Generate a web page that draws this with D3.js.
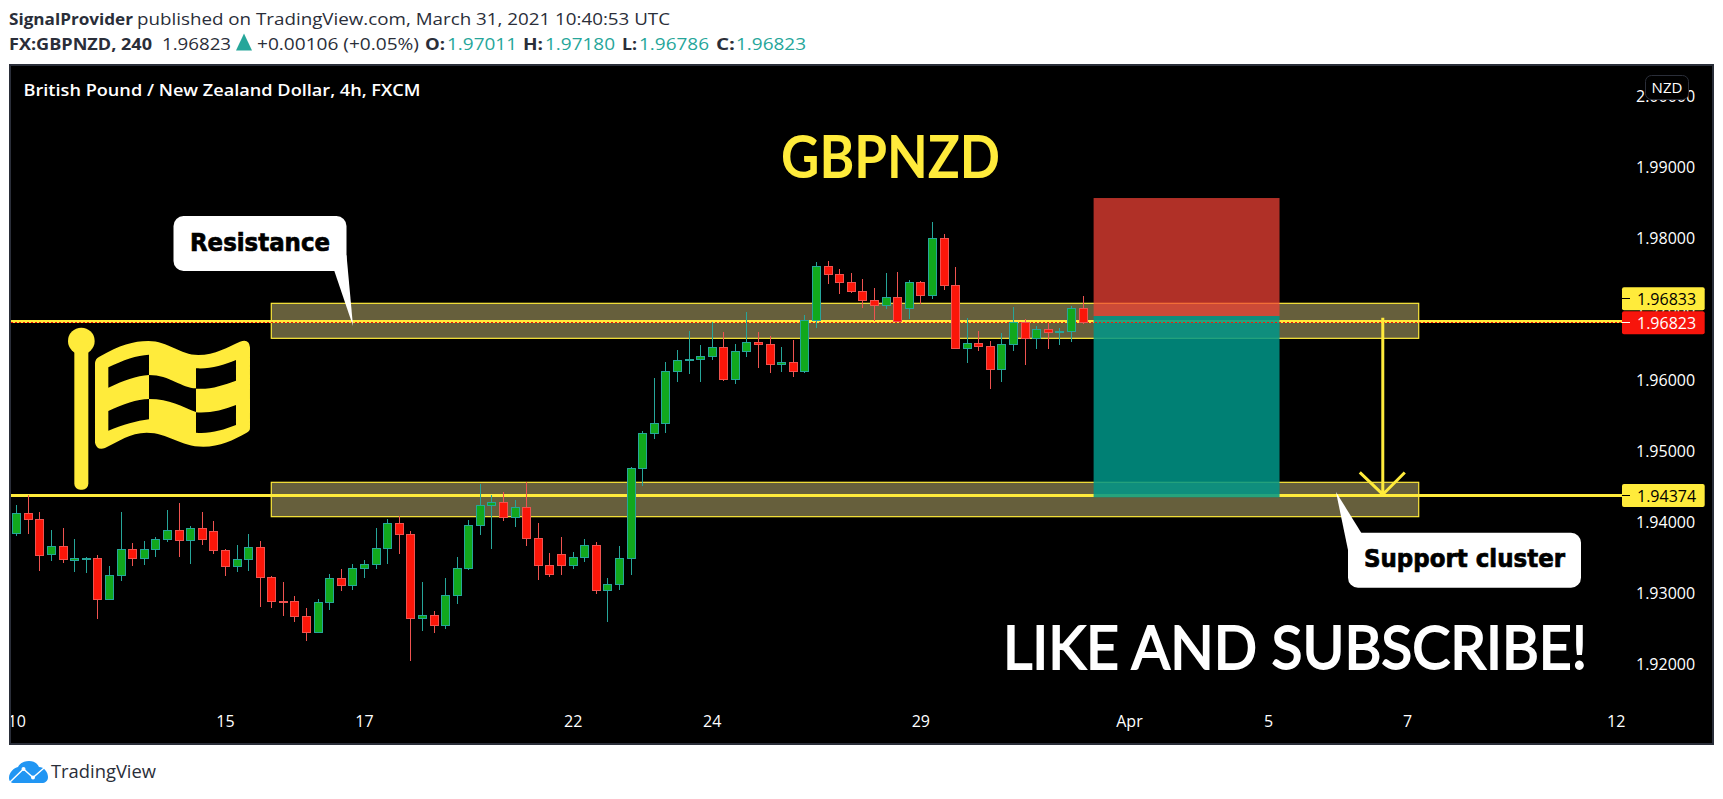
<!DOCTYPE html>
<html>
<head>
<meta charset="utf-8">
<style>
html,body{margin:0;padding:0;background:#fff;overflow:hidden}
svg{display:block}
text{white-space:pre}
</style>
<script src="https://cdn.jsdelivr.net/npm/d3@7"></script>
</head>
<body>
<svg id="c" width="1723" height="799"></svg>
<script>
const opens=[1.93850,1.94122,1.94038,1.93545,1.93657,1.93470,1.93484,1.93488,1.92911,1.93249,
1.93615,1.93488,1.93615,1.93756,1.93883,1.93742,1.93911,1.93869,1.93601,1.93376,
1.93474,1.93643,1.93221,1.92883,1.92883,1.92671,1.92446,1.92869,1.93207,1.93108,
1.93347,1.93404,1.93629,1.93981,1.93826,1.92643,1.92686,1.92545,1.92967,1.93347,
1.93953,1.94235,1.94277,1.94066,1.94207,1.93770,1.93390,1.93545,1.93390,1.93502,
1.93671,1.93038,1.93122,1.93488,1.94756,1.95249,1.95390,1.96122,1.96277,1.96291,
1.96334,1.96460,1.96010,1.96404,1.96531,1.96503,1.96221,1.96249,1.96122,1.96840,
1.97601,1.97489,1.97376,1.97249,1.97122,1.97052,1.97165,1.97010,1.97376,1.97193,
1.97995,1.97334,1.96446,1.96517,1.96474,1.96150,1.96503,1.96812,1.96587,1.96714,
1.96672,1.96686,1.97011];
const highs=[1.94240,1.94380,1.94136,1.93883,1.93916,1.93756,1.93502,1.93531,1.93376,1.94136,
1.93700,1.93728,1.93784,1.94164,1.94263,1.93939,1.94136,1.94009,1.93615,1.93671,
1.93826,1.93728,1.93235,1.93150,1.92953,1.92784,1.92911,1.93263,1.93333,1.93404,
1.93460,1.93911,1.94038,1.94085,1.93869,1.93150,1.92742,1.93207,1.93502,1.94024,
1.94531,1.94376,1.94418,1.94310,1.94559,1.93981,1.93559,1.93784,1.93573,1.93756,
1.93714,1.93207,1.93657,1.94770,1.95277,1.96024,1.96249,1.96418,1.96686,1.96488,
1.96812,1.96672,1.96503,1.96953,1.96672,1.96615,1.96460,1.96559,1.96911,1.97662,
1.97676,1.97559,1.97503,1.97418,1.97291,1.97503,1.97517,1.97404,1.97390,1.98221,
1.98052,1.97587,1.96869,1.96686,1.96545,1.96657,1.97024,1.96855,1.96756,1.96798,
1.96728,1.97038,1.97180];
const lows=[1.93808,1.93836,1.93315,1.93455,1.93427,1.93301,1.93286,1.92639,1.92911,1.93174,
1.93385,1.93399,1.93512,1.93723,1.93512,1.93413,1.93681,1.93554,1.93244,1.93301,
1.93315,1.92808,1.92793,1.92681,1.92596,1.92329,1.92432,1.92765,1.93033,1.93047,
1.93216,1.93343,1.93413,1.93554,1.92047,1.92470,1.92441,1.92498,1.92850,1.93329,
1.93822,1.93625,1.94019,1.93934,1.93667,1.93188,1.93230,1.93258,1.93343,1.93441,
1.92991,1.92596,1.93047,1.93258,1.94512,1.95174,1.95258,1.95977,1.96089,1.95977,
1.96287,1.95991,1.95949,1.96329,1.96174,1.96103,1.96118,1.96047,1.96103,1.96737,
1.97357,1.97216,1.97230,1.97019,1.96836,1.97005,1.96827,1.96864,1.97075,1.97136,
1.97273,1.96432,1.96244,1.96413,1.95878,1.95977,1.96413,1.96216,1.96442,1.96442,
1.96498,1.96540,1.96786];
const closes=[1.94122,1.94038,1.93540,1.93657,1.93474,1.93488,1.93488,1.92911,1.93249,1.93615,
1.93488,1.93615,1.93756,1.93883,1.93742,1.93911,1.93756,1.93601,1.93376,1.93474,
1.93643,1.93221,1.92883,1.92878,1.92671,1.92446,1.92869,1.93207,1.93108,1.93347,
1.93404,1.93629,1.93981,1.93826,1.92643,1.92686,1.92545,1.92967,1.93347,1.93953,
1.94235,1.94277,1.94066,1.94207,1.93770,1.93390,1.93263,1.93390,1.93502,1.93671,
1.93038,1.93122,1.93488,1.94756,1.95249,1.95390,1.96122,1.96277,1.96291,1.96334,
1.96460,1.96010,1.96404,1.96531,1.96503,1.96221,1.96249,1.96122,1.96840,1.97601,
1.97489,1.97376,1.97249,1.97122,1.97052,1.97165,1.96827,1.97376,1.97193,1.97995,
1.97334,1.96446,1.96517,1.96474,1.96150,1.96503,1.96812,1.96587,1.96714,1.96672,
1.96686,1.97010,1.96823];

const priceTicks=[1.92,1.93,1.94,1.95,1.96,1.97,1.98,1.99,2.00];
const dateTickIndex=[0,18,30,48,60,78,96,108,120,138];
const dateTickLabels=["10","15","17","22","24","29","Apr","5","7","12"];

const zones=[{top:1.97080,bottom:1.96587,from:22,to:121},{top:1.94559,bottom:1.94075,from:22,to:121}];
const levels=[1.96833,1.94374];
const lastPrice=1.96823;
const positionFrom=92.95, positionTo=108.99;
const positionStop=1.98563, positionEntry=1.96901, positionTarget=1.94348;
const arrowIndex=117.9, arrowFrom=1.96833, arrowTo=1.94374;

const x=d3.scaleLinear().domain([0,92]).range([16.3,1082.6]);
const y=d3.scaleLinear().domain([1.92,2.00]).range([664,96]);

const svg=d3.select("#c");
const UI='"Open Sans","Noto Sans",sans-serif', AX='"Open Sans","Noto Sans",sans-serif', BLACK='"DejaVu Sans",sans-serif';
const YEL="#ffeb3b", TEAL="#26a69a", RED="#ef5350", DARK="#2a2e39";

const defs=svg.append("defs");
defs.append("clipPath").attr("id","pane").append("rect").attr("x",11).attr("y",66).attr("width",1701).attr("height",677);

function label(t,px,py,o={}){
  const e=svg.append("text").attr("x",px).attr("y",py).text(t)
   .attr("font-family",o.font||UI).attr("font-size",o.size||16).attr("font-weight",o.weight||400)
   .attr("fill",o.fill||DARK);
  if(o.len) e.attr("textLength",o.len).attr("lengthAdjust","spacingAndGlyphs");
  if(o.anchor) e.attr("text-anchor",o.anchor);
  if(o.stroke) e.attr("stroke",o.fill||DARK).attr("stroke-width",o.stroke);
  return e;
}

// header
label("SignalProvider",9,24.5,{weight:700,len:124});
label("published on TradingView.com, March 31, 2021 10:40:53 UTC",137,24.5,{len:533});
label("FX:GBPNZD, 240",9,49.5,{weight:700,len:143});
label("1.96823",162,49.5,{len:69});
svg.append("path").attr("d","M236 50.5 L244 33.5 L252 50.5 Z").attr("fill",TEAL);
label("+0.00106 (+0.05%)",257,49.5,{len:162});
[["O:",425,20,"1.97011",447],["H:",523,20,"1.97180",545],["L:",622,15,"1.96786",639],["C:",716,19,"1.96823",736]]
 .forEach(r=>{label(r[0],r[1],49.5,{weight:700,len:r[2]});label(r[3],r[4],49.5,{fill:TEAL,len:70});});

// frame
svg.append("rect").attr("x",10).attr("y",65).attr("width",1703).attr("height",679)
  .attr("fill","#000").attr("stroke",DARK).attr("stroke-width",2);
label("British Pound / New Zealand Dollar, 4h, FXCM",23.5,96,{fill:"#fff",weight:600,len:397});

// axes
const yAxis=d3.axisRight(y).tickValues(priceTicks).tickFormat(d3.format(".5f")).tickSize(0).tickPadding(0);
const gy=svg.append("g").attr("transform","translate(1636,0)").call(yAxis);
gy.select(".domain").remove();
gy.selectAll("text").attr("fill","#fff").attr("font-family",AX).attr("font-size",16);

const gxClip=svg.append("g").attr("clip-path","url(#pane)");
const xAxis=d3.axisBottom(x).tickValues(dateTickIndex).tickFormat((d,i)=>dateTickLabels[i]).tickSize(0).tickPadding(0);
const gx=gxClip.append("g").attr("transform","translate(0,715.6)").call(xAxis);
gx.select(".domain").remove();
gx.selectAll("text").attr("fill","#fff").attr("font-family",AX).attr("font-size",16);

const pane=svg.append("g").attr("clip-path","url(#pane)");

// zones
pane.selectAll("rect.zone").data(zones).join("rect").attr("class","zone")
  .attr("x",d=>x(d.from)).attr("width",d=>x(d.to)-x(d.from))
  .attr("y",d=>y(d.top)).attr("height",d=>y(d.bottom)-y(d.top))
  .attr("fill","#665f3c").attr("stroke",YEL).attr("stroke-width",1.2);

// levels
pane.selectAll("line.level").data(levels).join("line").attr("class","level")
  .attr("x1",11).attr("x2",1622).attr("y1",d=>Math.round(y(d))+.5).attr("y2",d=>Math.round(y(d))+.5)
  .attr("stroke",YEL).attr("stroke-width",3);

// position tool
pane.append("rect").attr("x",x(positionFrom)).attr("width",x(positionTo)-x(positionFrom))
  .attr("y",y(positionStop)).attr("height",y(positionEntry)-y(positionStop))
  .attr("fill","rgb(244,67,54)").attr("fill-opacity",0.72);
pane.append("rect").attr("x",x(positionFrom)).attr("width",x(positionTo)-x(positionFrom))
  .attr("y",y(positionEntry)).attr("height",y(positionTarget)-y(positionEntry))
  .attr("fill","rgb(0,150,136)").attr("fill-opacity",0.85);

// last-price dotted line
pane.append("line").attr("x1",11).attr("x2",1622).attr("y1",Math.round(y(lastPrice))+.5).attr("y2",Math.round(y(lastPrice))+.5)
  .attr("stroke","#f7150c").attr("stroke-width",1).attr("stroke-dasharray","2 2");

// candles
const candles=opens.map((o,i)=>({i,o,h:highs[i],l:lows[i],c:closes[i]}));
const isUp=d=>d.c>=d.o;
const cx=d=>Math.round(x(d.i));
pane.selectAll("line.wick").data(candles).join("line").attr("class","wick")
  .attr("x1",d=>cx(d)+.5).attr("x2",d=>cx(d)+.5)
  .attr("y1",d=>Math.round(y(d.h))).attr("y2",d=>Math.round(y(d.l)))
  .attr("stroke",d=>isUp(d)?TEAL:RED).attr("stroke-width",1);
pane.selectAll("rect.body").data(candles).join("rect").attr("class","body")
  .attr("x",d=>cx(d)-3.5).attr("width",8)
  .attr("y",d=>Math.round(y(Math.max(d.o,d.c)))+.5)
  .attr("height",d=>Math.max(1,Math.round(y(Math.min(d.o,d.c)))-Math.round(y(Math.max(d.o,d.c)))))
  .attr("fill",d=>isUp(d)?"#11a81d":"#fb1609")
  .attr("stroke",d=>isUp(d)?TEAL:RED).attr("stroke-width",1);

// arrow
const ax=x(arrowIndex), ay=y(arrowTo);
pane.append("path").attr("fill","none").attr("stroke",YEL).attr("stroke-width",3)
  .attr("d",`M${ax} ${y(arrowFrom)-3} L${ax} ${ay-1} M${ax-23} ${ay-23} L${ax} ${ay-1} L${ax+22} ${ay-23}`);

// flag icon (drawn in a 3x local space)
const flag=svg.append("g").attr("transform","translate(40,210) scale(0.3333)").attr("fill",YEL);
flag.append("circle").attr("cx",124).attr("cy",393).attr("r",40);
flag.append("rect").attr("x",103).attr("y",395).attr("width",42).attr("height",444).attr("rx",18);
flag.append("path").attr("fill-rule","evenodd").attr("d",
 "M165 462 Q165 446 178 440 C240 405 280 393 325 393 C385 393 420 435 475 435 C525 435 565 410 600 395 Q628 385 630 412 L630 655 Q630 664 620 668 C580 690 540 710 490 710 C420 710 385 668 320 668 C270 668 235 695 195 714 Q170 722 165 698 Z "+
 "M205 472 C250 450 290 436 327 434 L327 495 C290 497 250 512 205 533 Z "+
 "M327 495 C390 495 425 535 468 535 L468 606 C425 590 390 567 327 567 Z "+
 "M468 475 C510 478 550 465 588 450 L588 512 C550 525 510 540 468 536 Z "+
 "M205 603 C250 582 290 568 327 567 L327 628 C290 632 250 645 205 662 Z "+
 "M468 607 C510 610 550 600 588 585 L588 645 C550 660 510 672 468 668 Z");

// callouts
svg.append("path").attr("fill","#fff").attr("d","M334 270 L353 326 L346.5 255 Z");
svg.append("rect").attr("x",173.5).attr("y",216).attr("width",173).attr("height",55).attr("rx",10).attr("fill","#fff");
label("Resistance",190,250.5,{font:BLACK,size:24,weight:700,fill:"#000",len:140,stroke:0.7});
svg.append("path").attr("fill","#fff").attr("d","M1336 492 L1348 550 L1362 534 Z");
svg.append("rect").attr("x",1348).attr("y",532.7).attr("width",233).attr("height",55).attr("rx",10).attr("fill","#fff");
label("Support cluster",1364,566.5,{font:BLACK,size:24,weight:700,fill:"#000",len:201,stroke:0.7});

// big texts
label("GBPNZD",781,178,{font:'Lato,"Open Sans",sans-serif',size:60,weight:700,fill:YEL,len:219});
label("LIKE AND SUBSCRIBE!",1003,669,{font:'Lato,"Open Sans",sans-serif',size:60,weight:400,fill:"#fff",len:584,stroke:1.8});

// price tags
function tag(t,top,bg,fg,tickY){
  svg.append("rect").attr("x",1622).attr("y",top).attr("width",82.7).attr("height",23).attr("rx",2).attr("fill",bg);
  svg.append("rect").attr("x",1622).attr("y",Math.round(tickY)).attr("width",8).attr("height",1).attr("fill",fg);
  label(t,1637,top+17.5,{font:AX,size:16,fill:fg});
}
tag(d3.format(".5f")(levels[0]),287.3,YEL,"#000",298);
tag(d3.format(".5f")(lastPrice),311.3,"#f7150c","#fff",322);
tag(d3.format(".5f")(levels[1]),484,YEL,"#000",495);

// currency box
svg.append("rect").attr("x",1645.5).attr("y",75.5).attr("width",43).attr("height",24).attr("rx",6)
  .attr("fill","#000").attr("stroke",DARK);
label("NZD",1667,92.5,{font:AX,size:15,fill:"#fff",anchor:"middle"});

// footer logo
svg.append("path").attr("fill","#2196f3").attr("d",
 "M9 778 C9 772 14 768 18 767 C20 763 24 761 29 761 C34 761 37 763 39 767 C44 767 48 772 48 777 C48 781 45 783 42 783 L14 783 C11 783 9 781 9 778 Z");
svg.append("path").attr("fill","none").attr("stroke","#fff").attr("stroke-width",1.4)
  .attr("d","M10 782 L23.5 769 L33 777.5 L44 768");
svg.append("circle").attr("cx",23.5).attr("cy",769).attr("r",2).attr("fill","#fff");
svg.append("circle").attr("cx",33).attr("cy",777.5).attr("r",2).attr("fill","#fff");
label("TradingView",51,777.5,{size:19,len:105});
</script>
</body>
</html>
